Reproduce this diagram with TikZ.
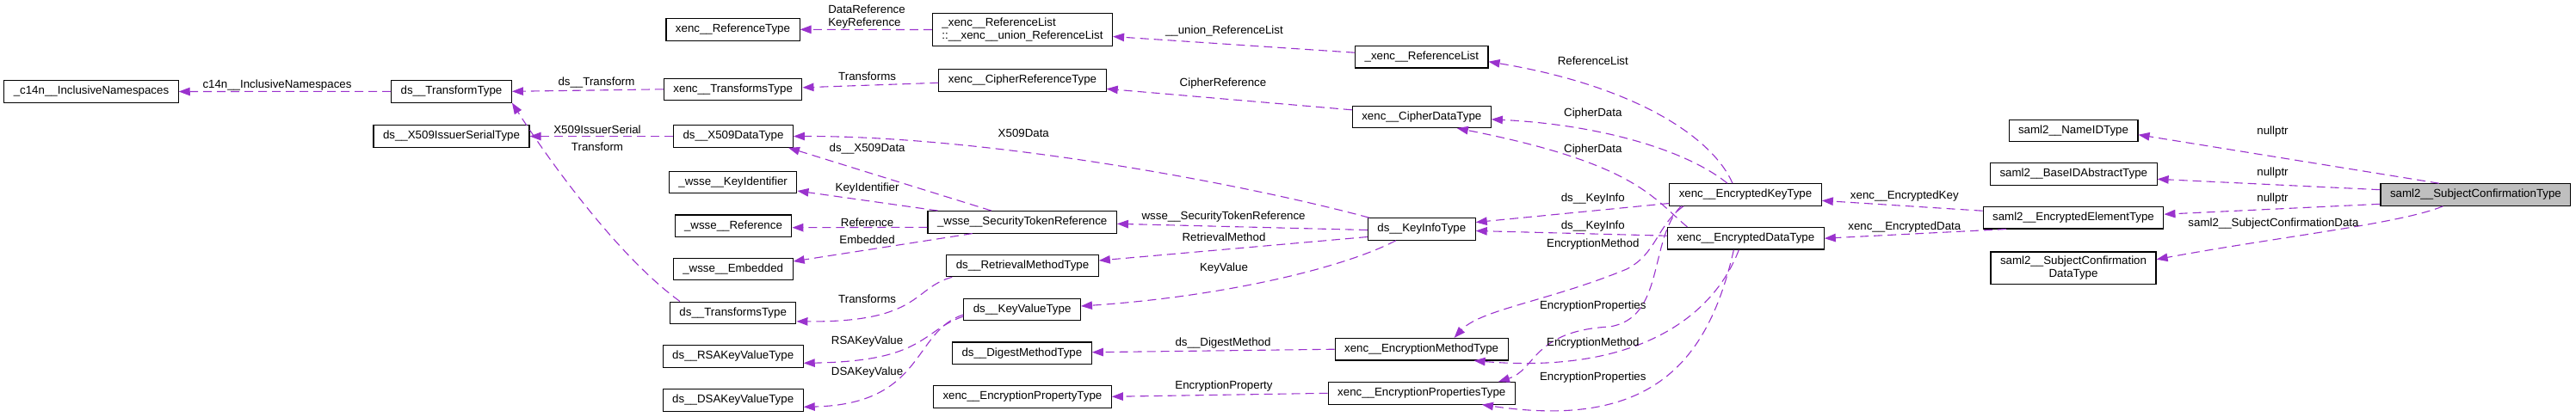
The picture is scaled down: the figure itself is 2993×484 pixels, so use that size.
\documentclass[tikz,border=0pt]{standalone}
\usepackage{fontspec}
\setmainfont{Liberation Sans}
\usepackage{tikz}
\usetikzlibrary{arrows.meta}
\definecolor{EdgeOrchid}{HTML}{9A32CD}
\definecolor{MainGrey}{HTML}{BFBFBF}

\begin{document}
\begin{tikzpicture}[x=0.5pt,y=-0.5pt,>={Triangle[length=6.5pt,width=4.75pt]},
  font=\fontsize{6.65}{7.5}\selectfont,
  cls/.style={draw=black,line width=0.55pt,fill=white,inner xsep=5.5pt,inner ysep=2.5pt,
    minimum height=12.75pt,align=center},
  lbl/.style={inner sep=0pt},
  member/.style={->,EdgeOrchid,line width=0.55pt,dash pattern=on 5pt off 3pt}]
  \useasboundingbox (0,0) rectangle (2993,484);
  % classes, column by column
  \node[cls] (c14n) at (106,106.5) {\_c14n\_\_InclusiveNamespaces};
  \node[cls] (transform) at (524.5,106.3) {ds\_\_TransformType};
  \node[cls] (issuer) at (524.5,158.5) {ds\_\_X509IssuerSerialType};
  \node[cls] (xencref) at (851.5,34.3) {xenc\_\_ReferenceType};
  \node[cls] (xenctransforms) at (851.7,103.8) {xenc\_\_TransformsType};
  \node[cls] (x509data) at (852,158.5) {ds\_\_X509DataType};
  \node[cls] (keyid) at (851.7,212) {\_wsse\_\_KeyIdentifier};
  \node[cls] (wsseref) at (852,262.7) {\_wsse\_\_Reference};
  \node[cls] (embedded) at (851.7,313) {\_wsse\_\_Embedded};
  \node[cls] (dstransforms) at (851.7,363.8) {ds\_\_TransformsType};
  \node[cls] (rsa) at (851.7,414.3) {ds\_\_RSAKeyValueType};
  \node[cls] (dsa) at (851.7,465.3) {ds\_\_DSAKeyValueType};
  \node[cls,align=left] (refunion) at (1188,34.5) {\_xenc\_\_ReferenceList\\::\_\_xenc\_\_union\_ReferenceList};
  \node[cls] (cipherref) at (1188,93.3) {xenc\_\_CipherReferenceType};
  \node[cls] (sectoken) at (1187.7,258.3) {\_wsse\_\_SecurityTokenReference};
  \node[cls] (retrieval) at (1188,309) {ds\_\_RetrievalMethodType};
  \node[cls] (keyvalue) at (1187.6,360) {ds\_\_KeyValueType};
  \node[cls] (digest) at (1187.4,410.7) {ds\_\_DigestMethodType};
  \node[cls] (encproperty) at (1187.9,461.3) {xenc\_\_EncryptionPropertyType};
  \node[cls] (reflist) at (1651.8,66.2) {\_xenc\_\_ReferenceList};
  \node[cls] (cipherdata) at (1651.8,135.8) {xenc\_\_CipherDataType};
  \node[cls] (keyinfo) at (1651.8,266.5) {ds\_\_KeyInfoType};
  \node[cls] (encmethod) at (1651.6,406.2) {xenc\_\_EncryptionMethodType};
  \node[cls] (encprops) at (1651.8,457.3) {xenc\_\_EncryptionPropertiesType};
  \node[cls] (enckey) at (2028,226.5) {xenc\_\_EncryptedKeyType};
  \node[cls] (encdata) at (2028.4,277.2) {xenc\_\_EncryptedDataType};
  \node[cls] (nameid) at (2409,151.8) {saml2\_\_NameIDType};
  \node[cls] (baseid) at (2409.3,202.5) {saml2\_\_BaseIDAbstractType};
  \node[cls] (encelem) at (2409,253.2) {saml2\_\_EncryptedElementType};
  \node[cls] (subjdata) at (2409,311.7) {saml2\_\_SubjectConfirmation\\DataType};
  \node[cls,fill=MainGrey] (subjconf) at (2876.4,226.5) {saml2\_\_SubjectConfirmationType};

  % usage edges, each with its member label
  \draw[member] (transform.west) -- (c14n.east);
  \node[lbl] (t-c14n) at (322,99) {c14n\_\_InclusiveNamespaces};
  \draw[member] (xenctransforms.west) -- (transform.east);
  \node[lbl] (t-transform) at (693,96) {ds\_\_Transform};
  \draw[member] (x509data.west) -- (issuer.east);
  \node[lbl] (t-issuer) at (694,151) {X509IssuerSerial};
  \draw[member] ([xshift=6pt]dstransforms.north west) .. controls (720,300) and (640,190) .. (transform.south east);
  \node[lbl] (t-transform2) at (694,171) {Transform};
  \draw[member] (refunion.west) -- (xencref.east);
  \node[lbl,align=left] (t-xencref) at (1007,19.5) {DataReference\\KeyReference};
  \draw[member] ([yshift=-1.5pt]cipherref.west) -- ([yshift=1pt]xenctransforms.east);
  \node[lbl] (t-xenctransforms) at (1007.6,89) {Transforms};
  \draw[member] ([xshift=1pt]keyinfo.north west) .. controls (1450,215) and (1150,158) .. (x509data.east);
  \node[lbl] (t-x509data) at (1189.3,155) {X509Data};
  \draw[member] ([xshift=-18pt]sectoken.north) -- ([xshift=-3pt]x509data.south east);
  \node[lbl] (t-x509data2) at (1007.6,173) {ds\_\_X509Data};
  \draw[member] ([xshift=6pt]sectoken.north west) -- ([yshift=-5pt]keyid.east);
  \node[lbl] (t-keyid) at (1007.6,219) {KeyIdentifier};
  \draw[member] ([yshift=-3pt]sectoken.west) -- ([yshift=-1pt]wsseref.east);
  \node[lbl] (t-wsseref) at (1007.6,259) {Reference};
  \draw[member] ([xshift=-29pt]sectoken.south) -- ([yshift=4.5pt]embedded.east);
  \node[lbl] (t-embedded) at (1007.6,279) {Embedded};
  \draw[member] ([yshift=2.5pt]reflist.west) -- ([yshift=-4pt]refunion.east);
  \node[lbl] (t-refunion) at (1422.4,36) {\_\_union\_ReferenceList};
  \draw[member] ([yshift=4pt]cipherdata.west) -- ([yshift=-5pt]cipherref.east);
  \node[lbl] (t-cipherref) at (1421,97) {CipherReference};
  \draw[member] ([yshift=-0.5pt]keyinfo.west) -- ([yshift=-1pt]sectoken.east);
  \node[lbl] (t-sectoken) at (1421.6,251.7) {wsse\_\_SecurityTokenReference};
  \draw[member] ([yshift=-4.5pt]keyinfo.west) -- ([yshift=3pt]retrieval.east);
  \node[lbl] (t-retrieval) at (1422,276) {RetrievalMethod};
  \draw[member] ([xshift=-15pt]keyinfo.south) .. controls (1560,312) and (1420,345) .. ([yshift=2pt]keyvalue.east);
  \node[lbl] (t-keyvalue) at (1422,312) {KeyValue};
  \draw[member] ([xshift=3.5pt]retrieval.south west) .. controls (1060,335) and (1070,375) .. ([yshift=-5pt]dstransforms.east);
  \node[lbl] (t-dstransforms) at (1007.6,348) {Transforms};
  \draw[member] ([yshift=-4pt]keyvalue.west) .. controls (1070,385) and (1075,420) .. ([yshift=-4pt]rsa.east);
  \node[lbl] (t-rsa) at (1007.6,397) {RSAKeyValue};
  \draw[member] ([yshift=-3pt]keyvalue.west) .. controls (1060,385) and (1075,470) .. ([yshift=-4pt]dsa.east);
  \node[lbl] (t-dsa) at (1007.6,433) {DSAKeyValue};
  \draw[member] (encmethod.west) -- ([yshift=0.5pt]digest.east);
  \node[lbl] (t-digest) at (1421,399) {ds\_\_DigestMethod};
  \draw[member] (encprops.west) -- (encproperty.east);
  \node[lbl] (t-encproperty) at (1422,449) {EncryptionProperty};
  \draw[member] ([xshift=-7.5pt]enckey.north) .. controls (1990,160) and (1900,100) .. ([yshift=-2.75pt]reflist.east);
  \node[lbl] (t-reflist) at (1850.8,71) {ReferenceList};
  \draw[member] ([xshift=-10.5pt]enckey.north) .. controls (1960,175) and (1860,145) .. ([yshift=-1.5pt]cipherdata.east);
  \node[lbl] (t-cipherdata) at (1850.8,132) {CipherData};
  \draw[member] ([xshift=-34pt]encdata.north) .. controls (1920,230) and (1900,190) .. ([xshift=-20pt]cipherdata.south east);
  \node[lbl] (t-cipherdata2) at (1850.8,174) {CipherData};
  \draw[member] ([yshift=-5pt]enckey.west) -- ([yshift=4pt]keyinfo.east);
  \node[lbl] (t-keyinfo) at (1850.8,231) {ds\_\_KeyInfo};
  \draw[member] ([yshift=1.5pt]encdata.west) -- ([yshift=-1pt]keyinfo.east);
  \node[lbl] (t-keyinfo2) at (1850.8,263) {ds\_\_KeyInfo};
  \draw[member] ([xshift=-36pt]enckey.south) .. controls (1925,262) and (1925,295) .. (1890,313)
    .. controls (1800,350) and (1720,360) .. ([xshift=19pt]encmethod.north);
  \node[lbl] (t-encmethod) at (1850.8,284) {EncryptionMethod};
  \draw[member] ([xshift=-37.5pt]enckey.south) .. controls (1915,280) and (1935,370) .. (1870,380)
    .. controls (1780,385) and (1785,430) .. ([xshift=-10pt]encprops.north east);
  \node[lbl] (t-encprops) at (1850.8,356) {EncryptionProperties};
  \draw[member] ([xshift=-4pt]encdata.south) .. controls (1990,370) and (1900,435) .. ([xshift=-20pt]encmethod.south east);
  \node[lbl] (t-encmethod2) at (1850.8,399) {EncryptionMethod};
  \draw[member] ([xshift=-7pt]encdata.south) .. controls (1985,420) and (1920,500) .. ([xshift=-19.5pt]encprops.south east);
  \node[lbl] (t-encprops2) at (1850.8,438.7) {EncryptionProperties};
  \draw[member] ([yshift=4pt]encelem.west) -- ([yshift=-3.4pt]enckey.east);
  \node[lbl] (t-enckey) at (2212.8,227.7) {xenc\_\_EncryptedKey};
  \draw[member] ([xshift=-39pt]encelem.south) -- (encdata.east);
  \node[lbl] (t-encdata) at (2212.8,264) {xenc\_\_EncryptedData};
  \draw[member] ([xshift=-21.3pt]subjconf.north) -- ([yshift=-2.45pt]nameid.east);
  \node[lbl] (t-nameid) at (2640.5,153) {nullptr};
  \draw[member] ([yshift=2.9pt]subjconf.west) -- ([yshift=-2.9pt]baseid.east);
  \node[lbl] (t-baseid) at (2640.5,201) {nullptr};
  \draw[member] ([yshift=-5.4pt]subjconf.west) -- ([yshift=2pt]encelem.east);
  \node[lbl] (t-encelem) at (2640.5,230.7) {nullptr};
  \draw[member] ([xshift=-19pt]subjconf.south) .. controls (2790,260) and (2650,275) .. ([yshift=5pt]subjdata.east);
  \node[lbl] (t-subjdata) at (2641.5,260) {saml2\_\_SubjectConfirmationData};
\end{tikzpicture}
\end{document}
